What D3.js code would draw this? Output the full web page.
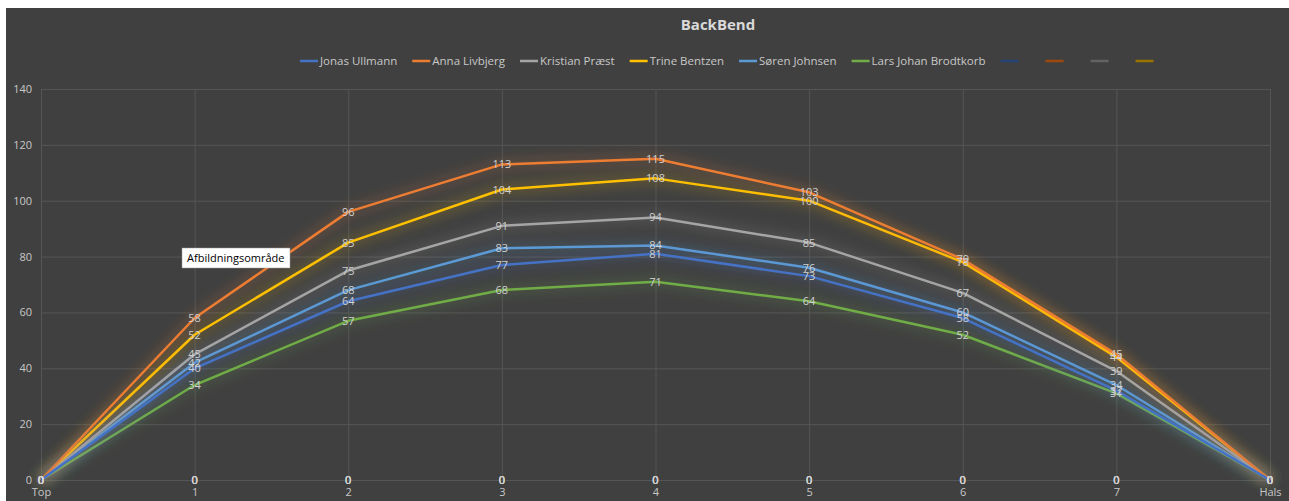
<!DOCTYPE html>
<html lang="en">
<head>
   <meta charset="UTF-8">
   <title>BackBend</title>
   <style>
      html, body {
         margin: 0;
         padding: 0;
         background-color: #fff;
         overflow: hidden;
      }

      text {
         font-family: 'Open Sans', sans-serif;
         user-select: none;
      }

      .tick line {
         stroke: #555;
      }

      .tick text {
         fill: #c8c8c8;
         font-size: 11px;
      }
   </style>
   <script src="https://cdn.jsdelivr.net/npm/d3@7"></script>
</head>
<body>
   <div class="d3"></div>
   <script>
      // data
      const categories = ['Top', '1', '2', '3', '4', '5', '6', '7', 'Hals']
      const seriesNames = ['Jonas Ullmann', 'Anna Livbjerg', 'Kristian Præst', 'Trine Bentzen',
         'Søren Johnsen', 'Lars Johan Brodtkorb', '', '', '', '']
      const jonas    = [0, 40, 64, 77, 81, 73, 58, 32, 0]
      const anna     = [0, 58, 96, 113, 115, 103, 79, 45, 0]
      const kristian = [0, 45, 75, 91, 94, 85, 67, 39, 0]
      const trine    = [0, 52, 85, 104, 108, 100, 78, 44, 0]
      const soren    = [0, 42, 68, 83, 84, 76, 60, 34, 0]
      const lars     = [0, 34, 57, 68, 71, 64, 52, 31, 0]
      const empty1   = [0, 0, 0, 0, 0, 0, 0, 0, 0]
      const empty2   = [0, 0, 0, 0, 0, 0, 0, 0, 0]
      const empty3   = [0, 0, 0, 0, 0, 0, 0, 0, 0]
      const empty4   = [0, 0, 0, 0, 0, 0, 0, 0, 0]
      const yTicks = [0, 20, 40, 60, 80, 100, 120, 140]
      const colors = ['#4472c4', '#ed7d31', '#a5a5a5', '#ffc000', '#5b9bd5', '#70ad47',
         '#264478', '#9e480e', '#636363', '#997300']

      const allValues = [jonas, anna, kristian, trine, soren, lars, empty1, empty2, empty3, empty4]
      const series = seriesNames.map((name, i) => ({ name, color: colors[i], values: allValues[i] }))

      // setup
      const W = 1289, H = 501
      const svg = d3.select('.d3').append('svg')
         .attr('width', W)
         .attr('height', H)

      const defs = svg.append('defs')
      const glow = defs.append('filter')
         .attr('id', 'glow')
         .attr('x', '-20%').attr('y', '-30%')
         .attr('width', '140%').attr('height', '160%')
      glow.append('feGaussianBlur')
         .attr('in', 'SourceGraphic')
         .attr('stdDeviation', 7)
         .attr('result', 'blur')
      glow.append('feComponentTransfer')
         .attr('in', 'blur')
         .attr('result', 'soft')
         .append('feFuncA').attr('type', 'linear').attr('slope', 0.8)
      const merge = glow.append('feMerge')
      merge.append('feMergeNode').attr('in', 'soft')
      merge.append('feMergeNode').attr('in', 'SourceGraphic')

      // chart background
      svg.append('rect')
         .attr('x', 6).attr('y', 8)
         .attr('width', W - 6).attr('height', H - 8)
         .attr('fill', '#404040')

      const margin = { top: 89, left: 41, right: 1270, bottom: 480 }

      const xScale = d3.scalePoint()
         .domain(categories)
         .range([margin.left, margin.right])

      const yScale = d3.scaleLinear()
         .domain([0, 140])
         .range([margin.bottom, margin.top])

      // axes / grid
      const yAxis = d3.axisLeft(yScale)
         .tickValues(yTicks)
         .tickSize(-(margin.right - margin.left))
         .tickPadding(9)
      const yAxisGroup = svg.append('g')
         .attr('transform', `translate(${margin.left}, 0)`)
         .call(yAxis)
      yAxisGroup.select('.domain').remove()

      const xAxis = d3.axisBottom(xScale)
         .tickSize(-(margin.bottom - margin.top))
         .tickPadding(8)
      const xAxisGroup = svg.append('g')
         .attr('transform', `translate(0, ${margin.bottom})`)
         .call(xAxis)
      xAxisGroup.select('.domain').remove()

      // title
      svg.append('text')
         .attr('x', 718)
         .attr('y', 30)
         .attr('text-anchor', 'middle')
         .attr('fill', '#d9d9d9')
         .attr('font-size', 15)
         .attr('font-weight', 'bold')
         .text('BackBend')

      // lines
      const line = d3.line()
         .x((d, i) => xScale(categories[i]))
         .y(d => yScale(d))

      const lines = svg.append('g')
      lines.selectAll('path')
         .data(series.slice().reverse())
         .enter()
         .append('path')
         .attr('d', d => line(d.values))
         .attr('fill', 'none')
         .attr('stroke', d => d.color)
         .attr('stroke-width', 2.5)
         .attr('stroke-linejoin', 'round')
         .attr('filter', 'url(#glow)')

      // data labels
      const labels = svg.append('g')
      series.forEach(s => {
         labels.selectAll(null)
            .data(s.values)
            .enter()
            .append('text')
            .attr('x', (d, i) => xScale(categories[i]))
            .attr('y', d => yScale(d) + 4)
            .attr('text-anchor', 'middle')
            .attr('fill', '#d0d0d0')
            .attr('font-size', 11)
            .text(d => d)
      })

      // legend
      const legend = svg.append('g').attr('transform', 'translate(300, 61)')
      let lx = 0
      series.forEach(s => {
         legend.append('line')
            .attr('x1', lx).attr('x2', lx + 18)
            .attr('y1', 0).attr('y2', 0)
            .attr('stroke', s.color)
            .attr('stroke-width', 2.5)
         lx += 20
         if (s.name) {
            const t = legend.append('text')
               .attr('x', lx)
               .attr('y', 4)
               .attr('fill', '#c8c8c8')
               .attr('font-size', 11.5)
               .text(s.name)
            lx += t.node().getComputedTextLength() + 15
         } else {
            lx += 25
         }
      })

      // hover tooltip
      const tip = svg.append('g').attr('transform', 'translate(182, 248)')
      tip.append('rect')
         .attr('width', 108).attr('height', 20)
         .attr('fill', '#fff')
         .attr('stroke', '#999')
         .attr('stroke-width', 0.5)
      tip.append('text')
         .attr('x', 5).attr('y', 14)
         .attr('fill', '#000')
         .attr('font-size', 11)
         .text('Afbildningsområde')
   </script>
</body>
</html>
